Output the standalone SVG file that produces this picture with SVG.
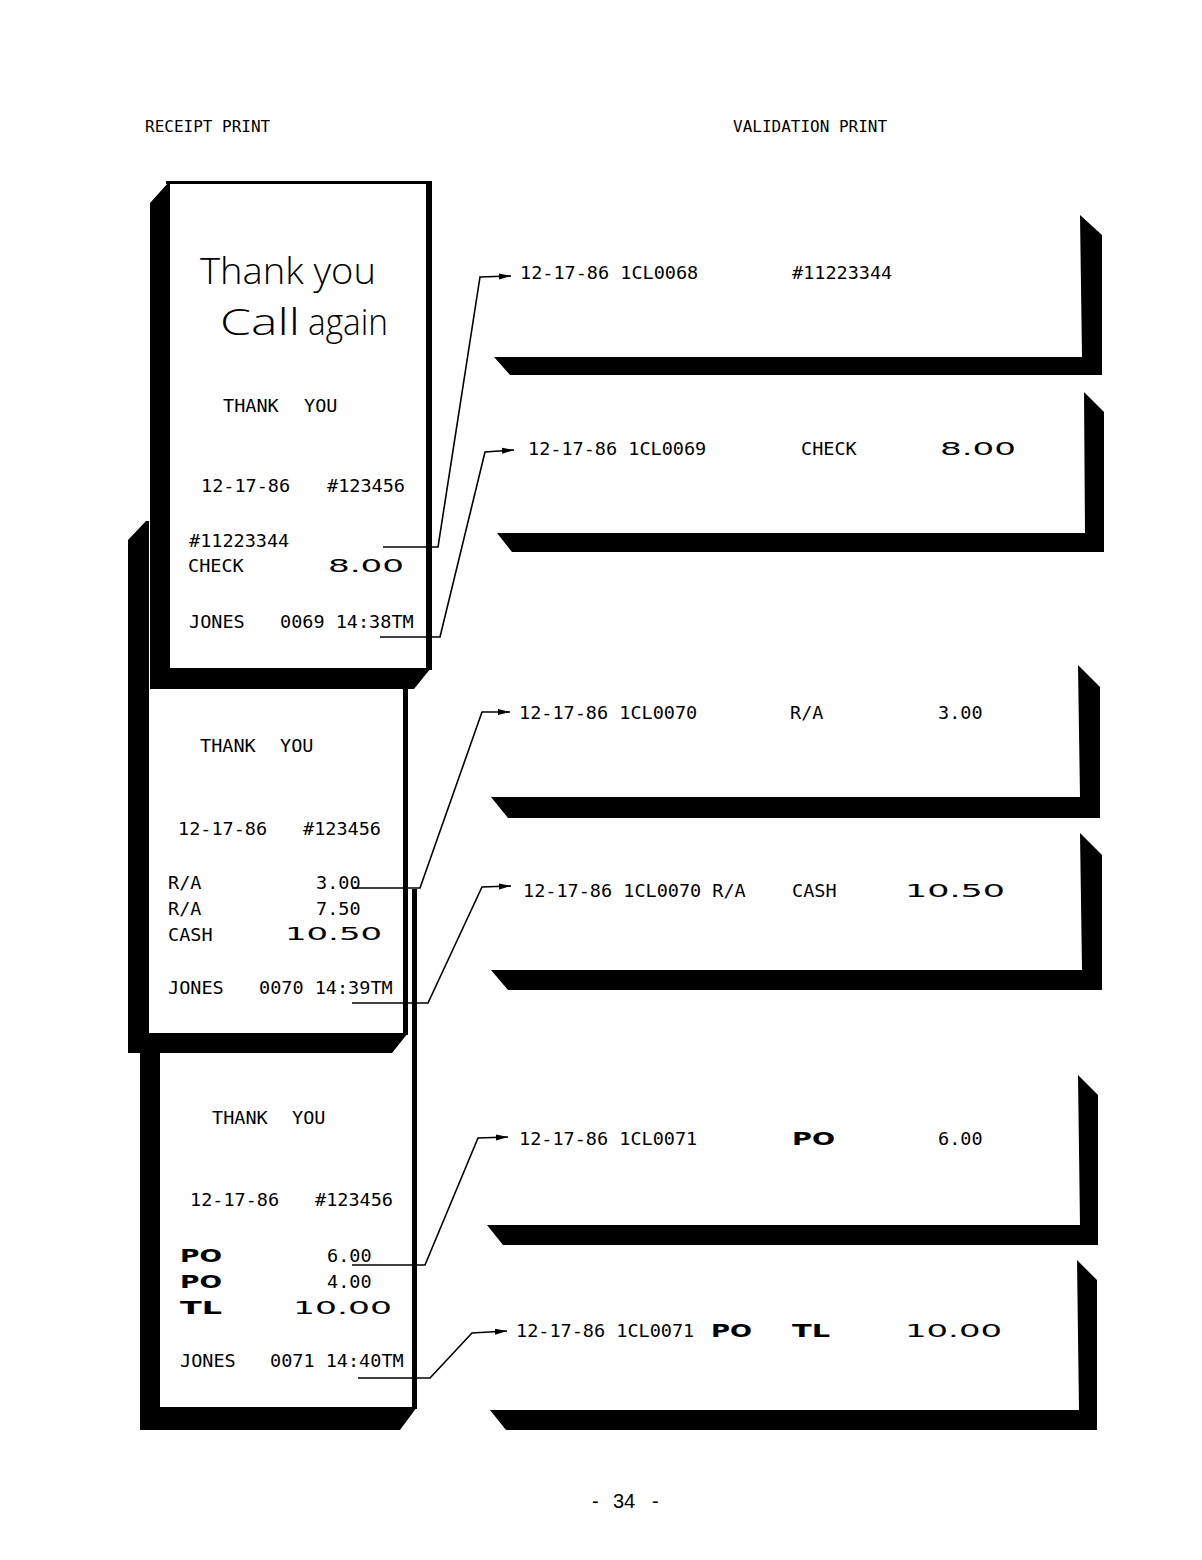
<svg xmlns="http://www.w3.org/2000/svg" width="1202" height="1560" viewBox="0 0 1202 1560">
<style>
.mono{font-family:"DejaVu Sans Mono","Liberation Mono",monospace;font-size:18.5px;fill:#000}
.hdr{font-family:"DejaVu Sans Mono","Liberation Mono",monospace;font-size:16px;fill:#000}
.wide{font-family:"DejaVu Sans","Liberation Sans",sans-serif;font-size:18px;fill:#000}
.wb{font-family:"DejaVu Sans","Liberation Sans",sans-serif;font-size:18px;font-weight:bold;fill:#000}
.hand{font-family:"Open Sans","Liberation Sans",sans-serif;font-size:37px;font-weight:300;fill:#000}
.pg{font-family:"Liberation Sans",sans-serif;font-size:20px;fill:#000}
.blk{fill:#000}
.paper{fill:#fff}
.conn{fill:none;stroke:#000;stroke-width:1.6}
</style>
<defs>
<marker id="arr" markerUnits="userSpaceOnUse" markerWidth="14" markerHeight="10" refX="12" refY="5" orient="auto">
<path d="M0,2 L12,5 L0,8 z" fill="#000"/>
</marker>
</defs>
<rect width="1202" height="1560" fill="#fff"/>

<text class="hdr" x="145" y="132">RECEIPT PRINT</text>
<text class="hdr" x="733" y="132">VALIDATION PRINT</text>

<!-- Receipt 3 (bottom) -->
<g id="receipt3">
<polygon class="blk" points="140,1050 160,1050 160,1407 417,1407 400,1430 140,1430"/>
<rect class="paper" x="160" y="889" width="253" height="518"/>
<rect class="blk" x="412" y="889" width="5" height="520"/>
<text class="mono" x="212" y="1124">THANK</text>
<text class="mono" x="292" y="1124">YOU</text>
<text class="mono" x="190" y="1206">12-17-86</text>
<text class="mono" x="315" y="1206">#123456</text>
<text class="wb" x="180" y="1262" textLength="42" lengthAdjust="spacingAndGlyphs">PO</text>
<text class="mono" x="327" y="1262">6.00</text>
<text class="wb" x="180" y="1288" textLength="42" lengthAdjust="spacingAndGlyphs">PO</text>
<text class="mono" x="327" y="1288">4.00</text>
<text class="wb" x="180" y="1314" textLength="42" lengthAdjust="spacingAndGlyphs">TL</text>
<text class="wide" x="293" y="1314" textLength="99" lengthAdjust="spacingAndGlyphs">10.00</text>
<text class="mono" x="180" y="1367">JONES</text>
<text class="mono" x="270" y="1367">0071 14:40TM</text>
</g>

<!-- Receipt 2 (middle) -->
<g id="receipt2">
<polygon class="blk" points="128,540 146,521 149,521 149,1033 408,1033 392,1053 128,1053"/>
<rect class="paper" x="149" y="521" width="256" height="512"/>
<rect class="blk" x="403" y="521" width="5" height="514"/>
<text class="mono" x="200" y="752">THANK</text>
<text class="mono" x="280" y="752">YOU</text>
<text class="mono" x="178" y="835">12-17-86</text>
<text class="mono" x="303" y="835">#123456</text>
<text class="mono" x="168" y="889">R/A</text>
<text class="mono" x="316" y="889">3.00</text>
<text class="mono" x="168" y="915">R/A</text>
<text class="mono" x="316" y="915">7.50</text>
<text class="mono" x="168" y="941">CASH</text>
<text class="wide" x="285" y="940" textLength="97" lengthAdjust="spacingAndGlyphs">10.50</text>
<text class="mono" x="168" y="994">JONES</text>
<text class="mono" x="259" y="994">0070 14:39TM</text>
</g>

<!-- Receipt 1 (top) -->
<g id="receipt1">
<polygon class="blk" points="150,203 168,183 170,183 170,668 431,668 414,689 150,689"/>
<rect class="paper" x="170" y="184" width="257" height="484"/>
<rect class="blk" x="166" y="181" width="266" height="3"/>
<rect class="blk" x="426" y="181" width="6" height="489"/>
<text class="hand" x="200" y="284" textLength="176" lengthAdjust="spacingAndGlyphs">Thank you</text>
<text class="hand" x="220" y="335" textLength="80" lengthAdjust="spacingAndGlyphs">Call</text>
<text class="hand" x="308" y="335" textLength="80" lengthAdjust="spacingAndGlyphs">again</text>
<text class="mono" x="223" y="412">THANK</text>
<text class="mono" x="304" y="412">YOU</text>
<text class="mono" x="201" y="492">12-17-86</text>
<text class="mono" x="327" y="492">#123456</text>
<text class="mono" x="189" y="547">#11223344</text>
<text class="mono" x="188" y="572">CHECK</text>
<text class="wide" x="328" y="572" textLength="76" lengthAdjust="spacingAndGlyphs">8.00</text>
<text class="mono" x="189" y="628">JONES</text>
<text class="mono" x="280" y="628">0069 14:38TM</text>
</g>

<!-- Validation slips -->
<g id="slip1">
<polygon class="blk" points="1080,215 1102,235 1102,375 510,375 494,357 1082,357"/>
<text class="mono" x="520" y="279">12-17-86 1CL0068</text>
<text class="mono" x="792" y="279">#11223344</text>
</g>
<g id="slip2">
<polygon class="blk" points="1084,392 1104,412 1104,552 512,552 497,533 1085,533"/>
<text class="mono" x="528" y="455">12-17-86 1CL0069</text>
<text class="mono" x="801" y="455">CHECK</text>
<text class="wide" x="940" y="455" textLength="76" lengthAdjust="spacingAndGlyphs">8.00</text>
</g>
<g id="slip3">
<polygon class="blk" points="1078,665 1100,687 1100,818 508,818 491,797 1080,797"/>
<text class="mono" x="519" y="719">12-17-86 1CL0070</text>
<text class="mono" x="790" y="719">R/A</text>
<text class="mono" x="938" y="719">3.00</text>
</g>
<g id="slip4">
<polygon class="blk" points="1080,833 1102,855 1102,990 508,990 491,970 1082,970"/>
<text class="mono" x="523" y="897">12-17-86 1CL0070 R/A</text>
<text class="mono" x="792" y="897">CASH</text>
<text class="wide" x="905" y="897" textLength="100" lengthAdjust="spacingAndGlyphs">10.50</text>
</g>
<g id="slip5">
<polygon class="blk" points="1078,1075 1098,1095 1098,1245 503,1245 487,1225 1080,1225"/>
<text class="mono" x="519" y="1145">12-17-86 1CL0071</text>
<text class="wb" x="792" y="1145" textLength="43" lengthAdjust="spacingAndGlyphs">PO</text>
<text class="mono" x="938" y="1145">6.00</text>
</g>
<g id="slip6">
<polygon class="blk" points="1077,1260 1097,1280 1097,1430 506,1430 490,1410 1079,1410"/>
<text class="mono" x="516" y="1337">12-17-86 1CL0071</text>
<text class="wb" x="711" y="1337" textLength="41" lengthAdjust="spacingAndGlyphs">PO</text>
<text class="wb" x="792" y="1337" textLength="38" lengthAdjust="spacingAndGlyphs">TL</text>
<text class="wide" x="905" y="1337" textLength="97" lengthAdjust="spacingAndGlyphs">10.00</text>
</g>

<!-- Connectors -->
<g id="connectors">
<polyline class="conn" marker-end="url(#arr)" points="383,547 438,547 480,277 511,276"/>
<polyline class="conn" marker-end="url(#arr)" points="380,637 440,637 485,452 514,450"/>
<polyline class="conn" marker-end="url(#arr)" points="352,888 420,888 482,712 510,712"/>
<polyline class="conn" marker-end="url(#arr)" points="352,1003 428,1003 482,887 511,886"/>
<polyline class="conn" marker-end="url(#arr)" points="352,1265 425,1265 478,1138 508,1137"/>
<polyline class="conn" marker-end="url(#arr)" points="358,1378 430,1378 472,1333 507,1331"/>
</g>

<text class="pg" x="592" y="1508">-</text>
<text class="pg" x="613" y="1508">34</text>
<text class="pg" x="652" y="1508">-</text>
</svg>
